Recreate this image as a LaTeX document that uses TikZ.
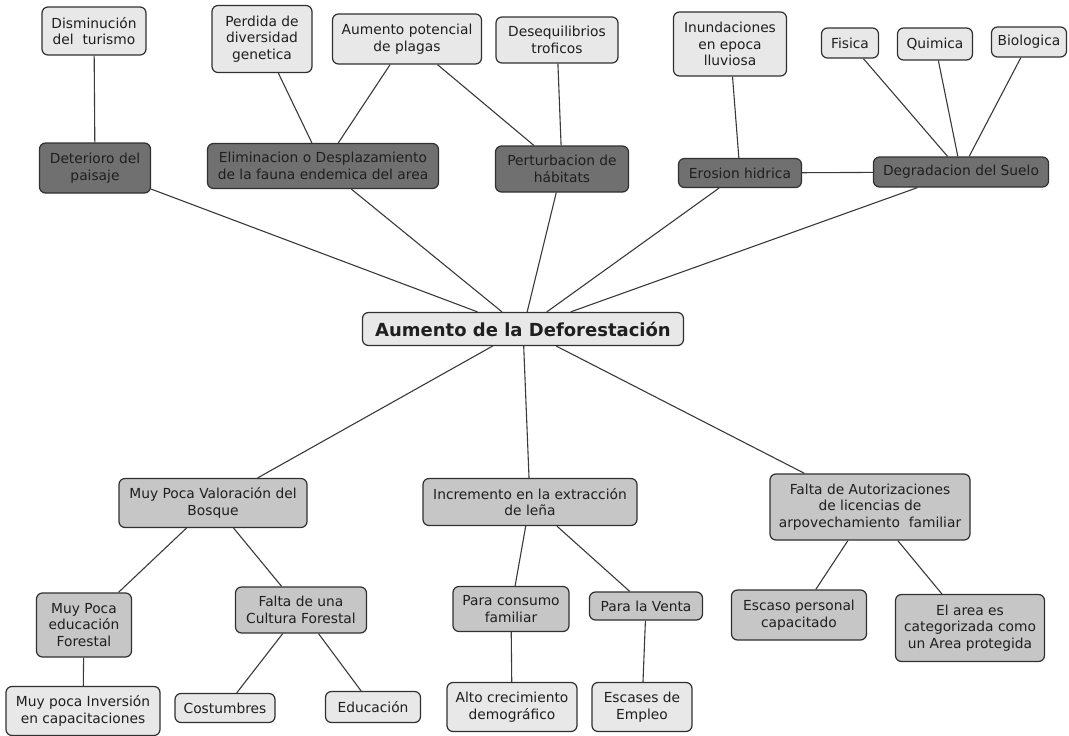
\documentclass[tikz,border=0pt]{standalone}
\usepackage{fontspec}
\setmainfont{DejaVu Sans}
\definecolor{lt}{HTML}{E8E8E8}
\definecolor{md}{HTML}{C6C6C6}
\definecolor{dk}{HTML}{707070}
\definecolor{bd}{HTML}{303030}
\definecolor{ln}{HTML}{3A3A3A}
\begin{document}
\begin{tikzpicture}[x=1pt,y=-1pt,
  box/.style={draw=bd, line width=1.2pt, rounded corners=6pt, align=center, inner sep=0pt,
    font=\fontsize{13.8}{16.7}\selectfont, text=black!88},
  lbox/.style={box, fill=lt},
  mbox/.style={box, fill=md},
  dbox/.style={box, fill=dk},
  conn/.style={draw=ln, line width=1.1pt}]
\fill[white] (0,0) rectangle (1069,736);
\path[use as bounding box] (0,0) rectangle (1069,736);
% top row
\node[lbox, minimum width=104, minimum height=48] (dis) at (94,31) {Disminución\\del\ \ turismo};
\node[lbox, minimum width=100, minimum height=67] (per) at (262,39) {Perdida de\\diversidad\\genetica};
\node[lbox, minimum width=149, minimum height=50] (aum) at (407,39) {Aumento potencial\\de plagas};
\node[lbox, minimum width=122, minimum height=46] (des) at (557,40) {Desequilibrios\\troficos};
\node[lbox, minimum width=113, minimum height=64] (inu) at (730,44) {Inundaciones\\en epoca\\lluviosa};
\node[lbox, minimum width=57, minimum height=30] (fis) at (850,43) {Fisica};
\node[lbox, minimum width=75, minimum height=32] (qui) at (935,44) {Quimica};
\node[lbox, minimum width=75, minimum height=30] (bio) at (1029,42) {Biologica};
% dark row
\node[dbox, minimum width=111, minimum height=50] (det) at (95,168) {Deterioro del\\paisaje};
\node[dbox, minimum width=231, minimum height=45] (eli) at (323,166) {Eliminacion o Desplazamiento\\de la fauna endemica del area};
\node[dbox, minimum width=133, minimum height=46] (pert) at (562,169) {Perturbacion de\\hábitats};
\node[dbox, minimum width=123, minimum height=29] (ero) at (740,173) {Erosion hidrica};
\node[dbox, minimum width=175, minimum height=30] (deg) at (961,172) {Degradacion del Suelo};
% center
\node[lbox, minimum width=321, minimum height=33, font=\fontsize{18}{21}\selectfont\bfseries] (c) at (523,329) {Aumento de la Deforestación};
% bottom
\node[mbox, minimum width=188, minimum height=49] (val) at (213,503) {Muy Poca Valoración del\\Bosque};
\node[mbox, minimum width=214, minimum height=47] (inc) at (530,502) {Incremento en la extracción\\de leña};
\node[mbox, minimum width=200, minimum height=66] (fal) at (870,507) {Falta de Autorizaciones\\de licencias de\\arpovechamiento\ \ familiar};
\node[mbox, minimum width=95, minimum height=64] (edu) at (84,625) {Muy Poca\\educación\\Forestal};
\node[mbox, minimum width=131, minimum height=46] (cul) at (301,610) {Falta de una\\Cultura Forestal};
\node[mbox, minimum width=116, minimum height=45] (con) at (511,609) {Para consumo\\familiar};
\node[mbox, minimum width=113, minimum height=28] (ven) at (646,606) {Para la Venta};
\node[mbox, minimum width=135, minimum height=50] (esc) at (799,615) {Escaso personal\\capacitado};
\node[mbox, minimum width=149, minimum height=67] (are) at (970,628) {El area es\\categorizada como\\un Area protegida};
\node[lbox, minimum width=154, minimum height=49] (inv) at (83,711) {Muy poca Inversión\\en capacitaciones};
\node[lbox, minimum width=100, minimum height=29] (cos) at (225,708) {Costumbres};
\node[lbox, minimum width=95, minimum height=31] (educ) at (373,707) {Educación};
\node[lbox, minimum width=130, minimum height=49] (alt) at (512,707) {Alto crecimiento\\demográfico};
\node[lbox, minimum width=100, minimum height=49] (ems) at (642,707) {Escases de\\Empleo};
% connectors
\draw[conn] (dis) -- (det);
\draw[conn] (per) -- (eli);
\draw[conn] (aum) -- (eli);
\draw[conn] (aum) -- (pert);
\draw[conn] (des) -- (pert);
\draw[conn] (inu) -- (ero);
\draw[conn] (ero) -- (deg);
\draw[conn] (fis) -- (deg);
\draw[conn] (qui) -- (deg);
\draw[conn] (bio) -- (deg);
\draw[conn] (det) -- (c);
\draw[conn] (eli) -- (c);
\draw[conn] (pert) -- (c);
\draw[conn] (ero) -- (c);
\draw[conn] (deg) -- (c);
\draw[conn] (c) -- (val);
\draw[conn] (c) -- (inc);
\draw[conn] (c) -- (fal);
\draw[conn] (val) -- (edu);
\draw[conn] (val) -- (cul);
\draw[conn] (edu) -- (inv);
\draw[conn] (cul) -- (cos);
\draw[conn] (cul) -- (educ);
\draw[conn] (inc) -- (con);
\draw[conn] (inc) -- (ven);
\draw[conn] (con) -- (alt);
\draw[conn] (ven) -- (ems);
\draw[conn] (fal) -- (esc);
\draw[conn] (fal) -- (are);
\end{tikzpicture}
\end{document}
